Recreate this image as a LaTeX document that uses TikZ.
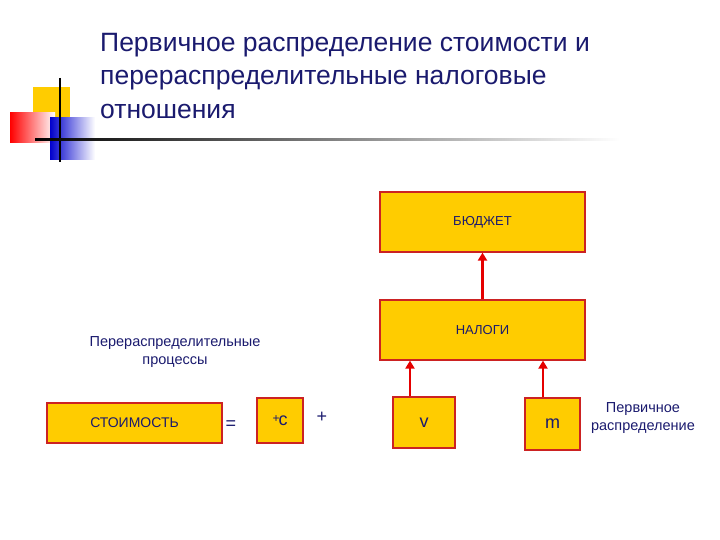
\documentclass[tikz,border=0pt]{standalone}
\usepackage{fontspec}
\setmainfont{Liberation Sans}
\usetikzlibrary{arrows.meta}
\definecolor{navy}{HTML}{1A1A6E}
\definecolor{gold}{HTML}{FFCC00}
\definecolor{bred}{HTML}{CC2222}
\begin{document}
\begin{tikzpicture}[x=1pt,y=-1pt,
  box/.style={draw=bred,line width=1.2pt,fill=gold,inner sep=0pt,text=navy,font=\fontsize{13}{15}\selectfont},
  lbl/.style={text=navy,font=\fontsize{14.5}{18}\selectfont,align=center},
  arr/.style={draw=red!90!black,line width=2.5pt,-{Triangle[length=8pt,width=9pt]}}]
\useasboundingbox (0,0) rectangle (720,540);
% logo
\fill[gold] (33,87) rectangle (70,122);
\shade[left color=red,right color=white] (10,113) rectangle (55,143);
\shade[left color=blue!80!black,right color=white] (50,118) rectangle (95,160);
\draw[line width=1.5pt,black] (60,78) -- (60,162);
\shade[left color=black,right color=white] (35,139) rectangle (620,141);
% title
\node[anchor=north west,text=navy,font=\fontsize{26.5}{33.5}\selectfont,align=left,inner sep=0pt] (title) at (100,33)
 {Первичное распределение стоимости и\\перераспределительные налоговые\\отношения};
% boxes
\node[box,minimum width=205pt,minimum height=60pt] (bud) at (482.5,222) {БЮДЖЕТ};
\node[box,minimum width=205pt,minimum height=60pt] (nal) at (482.5,330) {НАЛОГИ};
\node[box,minimum width=175pt,minimum height=40pt,font=\fontsize{14}{16}\selectfont] (st) at (134.5,423) {СТОИМОСТЬ};
\node[box,minimum width=46pt,minimum height=45pt,font=\fontsize{18}{20}\selectfont] (c) at (280,420.5) {\raisebox{3pt}{\fontsize{12}{12}\selectfont+}\kern-1pt c};
\node[box,minimum width=62pt,minimum height=51pt,font=\fontsize{18}{20}\selectfont] (v) at (424,422.5) {v};
\node[box,minimum width=55pt,minimum height=52pt,font=\fontsize{18}{20}\selectfont] (m) at (552.5,424) {m};
\node[lbl,font=\fontsize{18}{20}\selectfont] (eq) at (231,425) {=};
\node[lbl,font=\fontsize{18}{20}\selectfont] (pl) at (322,417) {+};
\node[lbl] (rp) at (175,352) {Перераспределительные\\процессы};
\node[lbl] (pr) at (643,418) {Первичное\\распределение};
\draw[arr] (nal.north) -- (bud.south);
\draw[arr] (v.north -| 410,0) -- (410,360.6);
\draw[arr] (m.north -| 543,0) -- (543,360.6);
\end{tikzpicture}
\end{document}
